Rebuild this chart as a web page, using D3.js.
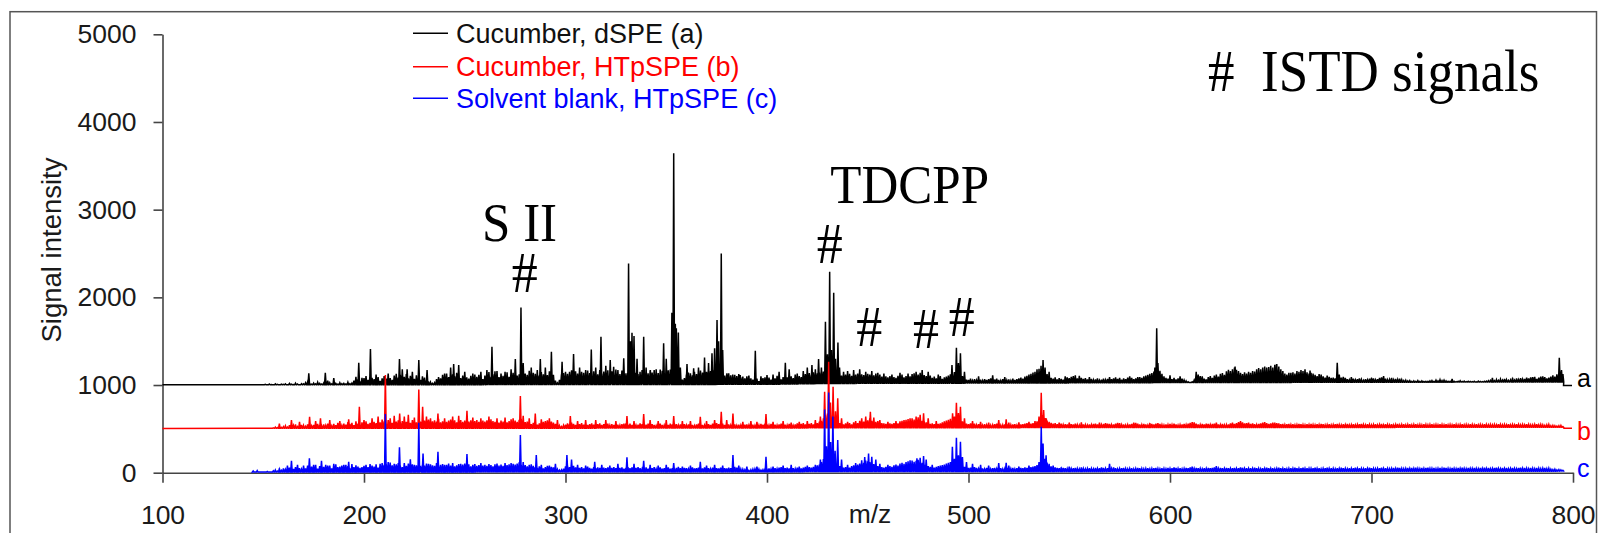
<!DOCTYPE html>
<html><head><meta charset="utf-8">
<script src="https://cdn.jsdelivr.net/npm/d3@7"></script>
<style>html,body{margin:0;padding:0;background:#fff;overflow:hidden}</style>
</head><body>
<script>
const mzTicks = [100,200,300,400,500,600,700,800];
const intensityTicks = [0,1000,2000,3000,4000,5000];
const seriesNames = ["Cucumber, dSPE (a)","Cucumber, HTpSPE (b)","Solvent blank, HTpSPE (c)"];
const seriesTags = ["a","b","c"];
const grassStartMz = 150;

// series a (Cucumber, dSPE)
const aStart = [100,1002];
const aBase = [[100,1002],[150,1003],[196,1004],[200,1003],[400,1008],[430,1018],[560,1025],[600,1028],[795,1035]];
const aGrass = [
0,4,0,8,2,0,10,4,0,6, 4,10,0,15,6,2,18,8,0,12, 10,22,32,14,6,18,10,28,15,8, 20,12,45,22,10,32,15,6,22,12, 15,8,28,12,18,45,90,65,38,80,
75,100,55,125,80,65,110,88,45,72, 100,70,118,76,55,105,125,82,112,64, 90,122,72,100,130,68,108,82,55,95, 80,50,36,28,15,22,64,88,72,112, 100,126,86,144,118,94,135,108,76,104,
115,82,68,100,126,76,90,112,86,64, 104,130,144,90,118,152,108,86,126,100, 112,140,90,122,134,162,104,118,144,94, 126,112,158,100,135,122,165,104,144,118, 130,108,152,126,112,45,18,54,118,130,
144,122,135,162,112,152,126,104,144,134, 118,158,130,108,152,140,116,165,126,148, 135,162,122,150,130,170,144,118,158,136, 126,165,152,180,158,134,118,144,165,140, 152,126,158,136,165,144,130,170,155,126,
148,162,170,180,198,172,158,108,54,72, 112,135,126,104,144,118,130,158,136,165, 144,172,152,162,180,165,172,158,126,100, 112,126,104,86,108,94,118,80,90,68, 76,100,68,54,86,65,36,45,72,80,
62,76,54,86,68,94,72,54,80,65, 76,100,86,68,108,80,90,76,100,112, 90,122,100,130,108,118,126,144,135,162, 152,170,144,162,126,118,104,90,80,100, 94,108,86,118,100,112,126,104,94,115,
108,100,122,90,112,86,100,76,90,80, 68,82,94,72,62,86,76,100,68,82, 90,80,104,112,86,100,118,108,94,80, 72,86,62,76,54,68,80,50,65,76, 86,100,108,126,135,118,108,80,54,40,
36,50,28,45,32,54,40,28,46,36, 44,54,32,40,50,36,28,45,54,32, 40,28,50,36,45,54,62,50,72,80, 90,104,118,126,144,162,170,158,126,100, 72,58,50,62,40,54,46,36,50,62,
54,68,76,62,50,80,58,45,54,40, 36,45,32,40,50,28,36,46,32,44, 54,40,50,62,45,54,36,50,40,58, 45,54,40,50,62,46,54,72,80,90, 100,108,126,144,162,135,100,72,54,45,
50,40,54,36,46,32,44,28,18,9, 0,9,28,62,90,72,54,45,36,62, 72,54,80,90,68,100,108,86,126,144, 130,150,170,145,130,110,95,115,100,120, 110,130,125,150,165,140,170,180,160,175,
190,170,200,210,180,150,130,100,90,110, 95,115,100,130,120,140,130,150,115,100, 108,100,86,72,94,80,68,54,76,62, 50,54,45,72,40,54,62,50,36,28, 32,40,28,36,45,32,22,36,28,40,
32,45,28,36,50,54,62,40,28,32, 22,28,36,32,40,28,18,22,15,18, 9,15,10,18,9,15,8,10,9,15, 18,10,22,15,28,18,22,15,10,9, 8,10,6,9,15,8,10,6,9,8,
6,9,4,10,8,6,9,10,15,18, 22,15,28,18,32,22,36,28,18,25, 32,22,40,28,45,32,36,50,40,54, 45,58,36,50,62,45,54,40,50,62, 72,62,86,108,118,90];
const aPeaks = [[172.6,1133],[180.8,1140],[185,1080],[197.4,1254],[203.2,1410],[206,1120],[212,1130],[217.6,1296],[219,1180],[221.4,1178],[224,1150],[227.2,1285],[231.3,1170],[240,1130],[243,1200],[244.5,1239],[247,1228],[250,1150],[255,1120],[258,1150],[261,1170],[263.5,1437],[266,1160],[270,1150],[273,1180],[275.1,1296],[277.9,1885],[279,1250],[283,1200],[287.5,1296],[290,1200],[293,1380],[298.3,1266],[302,1150],[304,1353],[307,1200],[310,1170],[312.8,1406],[315,1200],[317.6,1551],[320,1220],[322.2,1285],[323.9,1209],[326,1170],[328.9,1304],[331.3,2387],[332.2,1500],[333,1596],[334,1560],[335.5,1300],[338.8,1551],[340,1200],[342.1,1170],[345,1180],[348.7,1475],[350,1300],[352.8,1825],[353.7,3642],[354.5,1700],[355,1646],[356,1600],[357,1200],[360.3,1239],[363.6,1190],[366,1200],[369,1315],[371,1250],[372.7,1361],[374,1420],[375.2,1741],[376,1500],[377.3,2501],[378,1400],[380.1,1133],[383,1120],[386.7,1114],[390,1100],[394.2,1391],[397,1100],[400,1114],
[403,1120],[406,1150],[409.1,1255],[411,1180],[415,1130],[418,1160],[420,1200],[422.3,1228],[424,1180],[425.6,1296],[427,1200],[429,1722],[430,1350],[431.1,2292],[432,1400],[433.1,2053],[434,1300],[435.2,1486],[436,1200],[438,1150],[440,1160],[443,1170],[446,1180],[449,1150],[452,1160],[455,1140],[458,1130],[462,1120],[466,1140],[470,1130],[474,1150],[477,1170],[480,1150],[485,1120],[491.8,1228],[494,1426],[495,1250],[496,1361],[498,1150],[505,1100],[512,1110],[518,1090],[530,1120],[534,1180],[536,1220],[537,1285],[538,1200],[540,1150],[548,1100],[553,1110],[560,1090],
[570,1090],[575,1080],[580,1100],[585,1090],[590,1100],[592.5,1200],[593.4,1647],[594,1250],[595,1150],[600,1110],[605,1100],[613,1152],[616,1100],[625,1120],[629,1170],[632.3,1210],[634,1160],[640,1130],[645,1180],[648,1200],[650,1220],[652.9,1240],[655,1180],[660,1140],[665,1150],[669.5,1164],[675,1120],[683,1255],[684,1120],[690,1090],[700,1080],[706,1103],[710,1080],[740,1070],[760,1080],[770,1080],[780,1090],[785,1100],[790,1110],[793.2,1312],[794.3,1172]];
const aTail = [[795.3,995],[799.5,995]];

// series b (Cucumber, HTpSPE)
const bStart = [100,505];
const bBase = [[100,505],[155,506],[300,508],[560,515],[795,518]];
const bGrass = [
0,0,0,0,0,5,14,9,22,10, 18,28,14,36,22,32,45,18,28,40, 32,22,45,54,28,40,18,50,36,28, 45,32,54,40,28,50,36,62,45,32, 54,40,72,50,62,36,80,54,45,68,
54,80,50,62,90,72,58,86,68,100, 80,54,94,72,62,104,76,90,68,82, 100,72,86,62,94,80,68,90,76,65, 86,72,100,68,80,90,76,108,68,80, 94,72,86,100,76,90,68,80,94,72,
86,100,76,90,68,82,94,72,62,86, 76,90,68,100,80,72,94,65,86,76, 90,68,80,100,76,86,72,94,108,80, 68,76,54,45,62,50,40,54,62,72, 80,90,68,76,62,50,36,28,18,32,
40,54,45,62,50,36,54,45,58,40, 50,36,45,54,40,32,45,54,36,46, 40,50,32,45,36,54,40,32,45,50, 54,40,50,36,45,32,40,54,45,36, 40,50,32,45,36,28,40,50,36,32,
45,36,50,40,54,45,32,40,36,45, 32,40,45,36,28,40,50,54,36,32, 40,45,36,50,40,54,45,58,50,36, 45,40,32,54,40,28,36,32,45,36, 40,32,45,36,28,40,32,45,36,50,
40,32,45,54,36,32,40,50,45,36, 32,45,36,28,40,50,36,45,54,40, 50,45,54,40,62,54,72,80,108,144, 162,126,108,100,72,62,54,45,40,50, 45,54,40,62,72,54,80,90,72,100,
86,108,80,90,68,76,62,54,50,45, 40,50,45,54,62,50,72,80,68,90, 100,86,108,94,104,118,90,80,72,62, 54,45,50,40,54,45,50,62,72,80, 90,100,108,126,118,100,90,72,54,45,
40,50,36,45,32,40,36,28,40,32, 36,28,32,40,45,36,28,32,36,40, 45,32,36,40,28,32,36,40,45,50, 54,45,50,62,72,126,162,144,108,80, 62,54,45,50,40,36,45,32,40,36,
32,40,36,45,32,28,40,36,32,28, 36,32,40,45,36,28,32,40,50,45, 40,32,36,45,54,40,32,36,28,32, 36,40,45,54,45,36,32,40,36,28, 32,40,36,45,50,40,32,28,36,32,
40,32,45,36,28,32,36,40,32,45, 54,62,50,45,36,32,40,36,45,40, 32,40,45,54,36,32,40,28,32,36, 45,54,40,50,62,72,58,45,50,54, 40,45,36,32,40,45,54,62,50,40,
45,54,40,50,45,36,40,32,36,40, 32,36,28,32,40,36,32,28,36,32, 40,32,28,36,32,40,36,28,32,36, 28,32,36,40,32,28,36,32,40,28, 32,36,28,32,36,40,32,28,36,32,
28,32,36,28,32,40,28,36,32,28, 36,28,32,40,28,32,36,28,32,36, 28,32,36,28,32,28,36,32,28,32, 36,28,32,28,36,32,28,36,28,32, 28,36,32,28,32,36,28,32,28,36,
32,28,36,28,32,28,36,32,28,32, 28,32,28,36,32,28,32,28,36,28, 32,28,36,32,28,32,28,36,32,28, 28,32,36,28,32,28,22,28,32,18, 22,18,14,18,22,9];
const bPeaks = [[158,560],[164,600],[168,580],[173,638],[176,590],[178.4,619],[183,600],[188,590],[192.4,608],[197.7,752],[200,600],[204,620],[207,640],[210.6,1114],[213,620],[215,650],[217.7,676],[220,640],[222,660],[225,630],[227.2,950],[229.1,752],[231,640],[233,620],[236.7,676],[240,620],[244,640],[247,650],[251.1,707],[254,630],[258,620],[262,640],[266,620],[270,630],[274,620],[277.6,874],[279,650],[282,620],[285,676],[288,610],[292,620],[296,600],[302.4,646],[306,590],[310,600],[315,600],[320,600],[325,590],[330.5,646],[334,590],[338.8,669],[342,600],[346,590],[350,600],[353.7,646],[358,590],[362,590],[366.9,638],[370,590],[374,600],[377.3,695],[380,600],[383.1,676],[388,580],[392,590],[395,580],[399.5,669],
[403,580],[408,590],[412,570],[416,580],[420,590],[424,600],[426.5,640],[428.6,924],[430.6,1266],[431.5,800],[432.8,981],[434,700],[435.1,848],[437,620],[440,580],[444,590],[447,620],[449,640],[451.3,696],[453,630],[456,600],[460,580],[464,590],[468,600],[471,620],[474,640],[476,660],[477.7,677],[480,620],[484,590],[488,580],[492.1,677],[494,798],[495,680],[496,753],[498,620],[502,590],[506,580],[510,570],[515,600],[518.7,609],[520,570],[525,575],[530,580],[533,590],[536.1,912],[537.3,715],[538.6,620],[540,580],[545,570],[550,570],[556,575],
[565,570],[575,565],[582,570],[590,565],[612,575],[623,570],[652,570]];
const bTail = [[795.5,508],[799.5,506]];

// series c (Solvent blank, HTpSPE)
const cStart = [145,8];
const cBase = [[145,8],[300,10],[560,15],[795,18]];
const cGrass = [
0,0,7,0,0,14,22,10,32,18, 40,28,62,50,72,36,54,80,45,32, 54,40,72,90,62,50,80,36,68,90, 58,80,50,72,40,62,86,54,45,72, 50,80,68,40,90,54,76,62,45,54,
68,80,54,90,72,62,86,50,76,100, 80,90,68,108,76,62,86,100,72,54, 80,68,94,72,86,62,76,90,68,80, 72,94,62,86,76,68,100,72,80,90, 68,80,94,72,86,62,76,90,68,82,
94,72,86,62,80,90,68,76,100,72, 80,68,90,76,62,86,94,72,82,68, 90,76,86,100,72,82,94,108,80,68, 76,62,72,86,68,54,45,62,50,40, 54,68,45,58,50,36,28,18,22,36,
62,72,54,80,68,50,58,45,54,40, 50,58,45,36,54,40,50,45,36,46, 40,50,36,45,54,40,32,45,50,36, 45,54,40,50,36,45,54,40,32,45, 50,36,45,40,54,32,45,50,36,40,
45,50,36,40,32,45,54,40,36,45, 40,32,45,50,36,40,45,32,36,50, 45,40,32,45,54,40,36,45,32,40, 36,45,40,50,54,45,36,32,28,22, 18,14,22,28,32,36,28,18,22,32,
28,36,32,45,40,32,45,50,36,40, 45,36,50,40,32,45,40,36,45,54, 40,50,45,54,62,72,80,108,144,180, 216,180,144,108,90,72,62,54,45,50, 54,45,62,72,54,80,90,108,100,126,
118,108,100,86,72,62,54,50,45,54, 50,62,54,72,80,68,90,100,86,108, 118,104,126,112,122,135,108,100,80,72, 62,54,50,45,54,62,50,72,80,90, 100,108,126,144,135,108,100,72,54,45,
40,45,36,50,40,32,45,36,28,40, 32,28,36,40,32,45,36,28,32,40, 36,32,40,28,36,32,40,36,45,40, 45,50,54,62,72,108,162,180,144,100, 72,58,50,45,40,36,32,40,36,32,
28,32,36,40,32,28,36,32,28,32, 36,32,28,40,32,36,45,40,32,36, 40,32,45,36,28,32,36,40,32,28, 32,36,28,32,40,36,32,28,32,36, 28,32,36,40,32,28,36,32,28,40,
32,36,45,40,32,36,28,32,40,36, 45,36,32,40,36,32,28,36,32,40, 36,40,45,36,32,40,36,32,40,36, 32,36,40,32,36,45,40,32,36,32, 36,32,40,36,32,28,36,32,40,36,
32,36,28,32,40,36,32,36,28,32, 36,32,40,36,32,36,40,32,36,32, 32,36,40,32,36,28,32,36,40,32, 36,32,28,36,32,40,36,32,28,36, 32,36,40,32,36,32,28,36,32,40,
36,32,28,32,36,40,32,36,32,28, 32,36,32,40,36,32,28,32,36,32, 36,32,40,32,28,36,32,36,40,32, 32,36,28,32,36,32,40,36,32,28, 36,32,28,36,32,40,32,28,36,32,
32,36,32,28,36,32,40,32,36,28, 32,36,40,32,28,36,32,36,28,32, 36,32,28,36,40,32,36,32,28,36, 32,28,36,32,28,32,36,28,32,22, 18,22,14,18,14,9];
const cPeaks = [[145,20],[147,25],[158,50],[162,80],[164,137],[167,90],[170,80],[172.9,163],[175,90],[178.9,137],[182,80],[185,100],[188,70],[190,90],[192.4,125],[196,80],[200,70],[203,80],[206,90],[208,100],[210.6,669],[212,120],[215,100],[217.6,289],[220,110],[223,152],[225,90],[227.2,570],[229.3,220],[232,100],[236.7,239],[240,90],[244,110],[248,100],[251.1,213],[254,90],[258,100],[262,90],[266,100],[270,110],[274,100],[277.6,429],[279,120],[282,90],[285.5,201],[288,90],[292,80],[295,100],[300.7,201],[303,150],[306,90],[310,80],[314.5,125],[318,90],[322,80],[326,100],[330.5,175],[334,100],[338.8,137],[342,90],[346,80],[350,90],[353.7,110],[358,70],[362,80],[366.9,125],[370,80],[374,90],[378,80],[383.1,201],[386,80],[390,70],[395,70],[399.5,182],
[403,70],[408,80],[412,90],[416,70],[420,80],[424,90],[426.5,150],[428.6,720],[429.5,300],[430.6,916],[431.6,350],[432.7,640],[433.8,250],[435.1,373],[437,150],[440,90],[444,110],[447,140],[448.5,180],[450.4,220],[452,182],[454,150],[456,100],[460,90],[464,80],[468,100],[471,140],[474.4,163],[476,170],[477.7,190],[479,150],[482,90],[486,80],[489,90],[492,296],[494,399],[495,200],[496,353],[497,180],[499,120],[502,100],[506,90],[510,80],[515,110],[518.7,114],[520,80],[525,70],[530,80],[536.1,525],[537,334],[538.5,200],[540,100],[542,80],[546,60],[550,70],[556,60],[570,100],[611,70],[623,75]];
const cTail = [[795.3,12]];

// annotations (anchored in data units)
const hashMarks = [[279.8,2064],[431.2,2388],[450.7,1448],[478.9,1422],[496.6,1562]];
const peakLabels = [["S II",277.2,2640],["TDCPP",470.8,3076]];
const istdNote = ["#\u00a0\u00a0ISTD signals",618.9,4357];

// ---------------- drawing ----------------
const W = 1598, H = 533;
const colors = ["#000000","#ff0000","#0000ff"];
const sans = "'Liberation Sans', Arial, sans-serif";
const serif = "'Liberation Serif', 'Times New Roman', serif";

const svg = d3.select("body").append("svg").attr("width", W).attr("height", H);
svg.append("rect").attr("width", W).attr("height", H).attr("fill", "#fff");

const x = d3.scaleLinear().domain([100, 800]).range([162.5, 1573]);
const y = d3.scaleLinear().domain([0, 5000]).range([472.7, 34.3]);

// outer frame
svg.append("rect").attr("x", 10).attr("y", 11.7).attr("width", 1586.5).attr("height", 700)
  .attr("fill", "none").attr("stroke", "#555").attr("stroke-width", 1.5);

function tracePoints(start, baseKnots, grass, peaks, tail) {
  const base = d3.scaleLinear().domain(baseKnots.map(d => d[0])).range(baseKnots.map(d => d[1])).clamp(true);
  const sticks = grass.map((h, i) => [grassStartMz + i, base(grassStartMz + i) + h])
    .concat(peaks.map(p => [p[0], p[1]]))
    .sort((a, b) => a[0] - b[0]);
  const pts = [start];
  sticks.forEach(s => {
    if (s[0] < start[0]) return;
    pts.push([s[0] - 0.4, base(s[0] - 0.4)]);
    pts.push([s[0], s[1]]);
    pts.push([s[0] + 0.4, base(s[0] + 0.4)]);
  });
  tail.forEach(t => pts.push(t));
  return pts;
}

const line = d3.line().x(d => x(d[0])).y(d => y(d[1]));

// axes
const xAxis = d3.axisBottom(x).tickValues(mzTicks).tickSize(10).tickSizeOuter(0).tickPadding(22).tickFormat(d3.format("d"));
const gx = svg.append("g").attr("transform", `translate(0,${y(0)})`).call(xAxis);
const yAxis = d3.axisLeft(y).tickValues(intensityTicks).tickSize(9).tickSizeOuter(0).tickPadding(17).tickFormat(d3.format("d"));
const gy = svg.append("g").attr("transform", `translate(${x(100)},0)`).call(yAxis);
[gx, gy].forEach(g => {
  g.select(".domain").attr("stroke", "#444").attr("stroke-width", 1.6);
  g.selectAll(".tick line").attr("stroke", "#444").attr("stroke-width", 1.6);
  g.selectAll(".tick text").attr("font-family", sans).attr("font-size", 26.5).attr("fill", "#1a1a1a");
});

const series = [
  tracePoints(aStart, aBase, aGrass, aPeaks, aTail),
  tracePoints(bStart, bBase, bGrass, bPeaks, bTail),
  tracePoints(cStart, cBase, cGrass, cPeaks, cTail)
];
series.forEach((pts, i) => {
  svg.append("path").attr("d", line(pts)).attr("fill", "none")
    .attr("stroke", colors[i]).attr("stroke-width", 1.5).attr("stroke-linejoin", "miter");
});

// series tags a/b/c
const tagY = [387, 440, 477];
seriesTags.forEach((t, i) => {
  svg.append("text").attr("x", 1577).attr("y", tagY[i]).text(t)
    .attr("font-family", sans).attr("font-size", 25).attr("fill", colors[i]);
});

// axis titles
svg.append("text").attr("transform", "translate(51,250) rotate(-90)")
  .attr("text-anchor", "middle").attr("dominant-baseline", "central")
  .attr("font-family", sans).attr("font-size", 27.5).attr("fill", "#1a1a1a").text("Signal intensity");
svg.append("text").attr("x", 870).attr("y", 523).attr("text-anchor", "middle")
  .attr("font-family", sans).attr("font-size", 26.5).attr("fill", "#1a1a1a").text("m/z");

// legend
const legY = [33.3, 66.7, 98.3];
seriesNames.forEach((n, i) => {
  svg.append("line").attr("x1", 413).attr("x2", 448).attr("y1", legY[i]).attr("y2", legY[i])
    .attr("stroke", colors[i]).attr("stroke-width", 1.4);
  svg.append("text").attr("x", 456).attr("y", legY[i]).attr("dy", "0.35em").text(n)
    .attr("font-family", sans).attr("font-size", 27).attr("fill", i === 0 ? "#111" : colors[i]);
});

// annotations
hashMarks.forEach(h => {
  svg.append("text").attr("transform", `translate(${x(h[0])},${y(h[1])}) scale(1,1.08)`)
    .attr("text-anchor", "middle").attr("font-family", serif).attr("font-size", 52).text("#");
});
peakLabels.forEach(p => {
  svg.append("text").attr("transform", `translate(${x(p[1])},${y(p[2])}) scale(1,1.08)`)
    .attr("text-anchor", "middle").attr("font-family", serif).attr("font-size", 51).text(p[0]);
});
svg.append("text").attr("transform", `translate(${x(istdNote[1])},${y(istdNote[2])}) scale(1,1.1)`)
  .attr("font-family", serif).attr("font-size", 53).text(istdNote[0]);
</script>
</body></html>
